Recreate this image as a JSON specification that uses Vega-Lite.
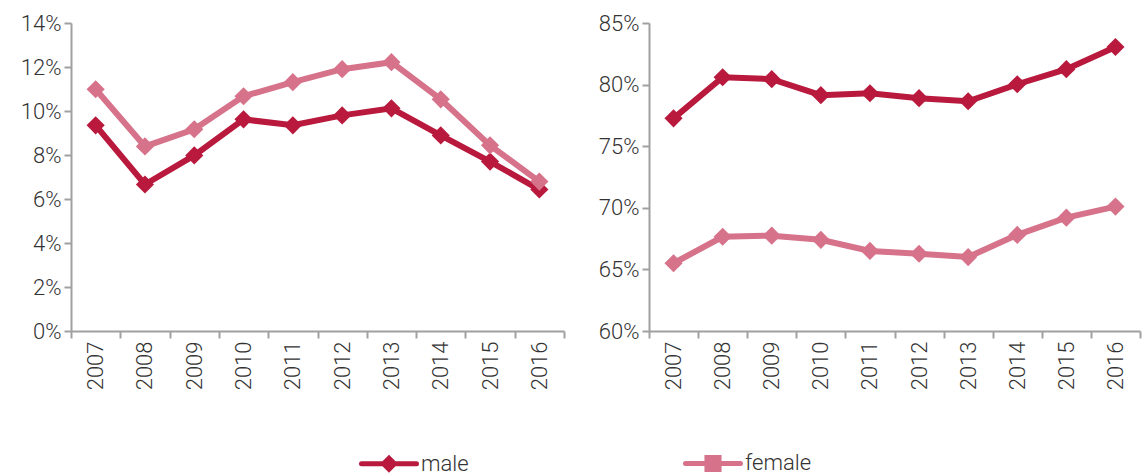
{
  "$schema": "https://vega.github.io/schema/vega-lite/v6.json",
  "background": "white",
  "padding": {"left": 20, "top": 12, "right": 4, "bottom": 0},
  "datasets": {
    "rates": [
      {"panel": "A", "year": "2007", "sex": "male", "value": 0.0935},
      {"panel": "A", "year": "2008", "sex": "male", "value": 0.0666},
      {"panel": "A", "year": "2009", "sex": "male", "value": 0.0798},
      {"panel": "A", "year": "2010", "sex": "male", "value": 0.0962},
      {"panel": "A", "year": "2011", "sex": "male", "value": 0.0935},
      {"panel": "A", "year": "2012", "sex": "male", "value": 0.098},
      {"panel": "A", "year": "2013", "sex": "male", "value": 0.1012},
      {"panel": "A", "year": "2014", "sex": "male", "value": 0.0889},
      {"panel": "A", "year": "2015", "sex": "male", "value": 0.077},
      {"panel": "A", "year": "2016", "sex": "male", "value": 0.0643},
      {"panel": "A", "year": "2007", "sex": "female", "value": 0.1099},
      {"panel": "A", "year": "2008", "sex": "female", "value": 0.0839},
      {"panel": "A", "year": "2009", "sex": "female", "value": 0.0917},
      {"panel": "A", "year": "2010", "sex": "female", "value": 0.1067},
      {"panel": "A", "year": "2011", "sex": "female", "value": 0.1131},
      {"panel": "A", "year": "2012", "sex": "female", "value": 0.119},
      {"panel": "A", "year": "2013", "sex": "female", "value": 0.1222},
      {"panel": "A", "year": "2014", "sex": "female", "value": 0.1053},
      {"panel": "A", "year": "2015", "sex": "female", "value": 0.0844},
      {"panel": "A", "year": "2016", "sex": "female", "value": 0.0679},
      {"panel": "B", "year": "2007", "sex": "male", "value": 0.7726},
      {"panel": "B", "year": "2008", "sex": "male", "value": 0.806},
      {"panel": "B", "year": "2009", "sex": "male", "value": 0.8044},
      {"panel": "B", "year": "2010", "sex": "male", "value": 0.7914},
      {"panel": "B", "year": "2011", "sex": "male", "value": 0.793},
      {"panel": "B", "year": "2012", "sex": "male", "value": 0.789},
      {"panel": "B", "year": "2013", "sex": "male", "value": 0.7865},
      {"panel": "B", "year": "2014", "sex": "male", "value": 0.8003},
      {"panel": "B", "year": "2015", "sex": "male", "value": 0.8125},
      {"panel": "B", "year": "2016", "sex": "male", "value": 0.8305},
      {"panel": "B", "year": "2007", "sex": "female", "value": 0.655},
      {"panel": "B", "year": "2008", "sex": "female", "value": 0.6765},
      {"panel": "B", "year": "2009", "sex": "female", "value": 0.6774},
      {"panel": "B", "year": "2010", "sex": "female", "value": 0.674},
      {"panel": "B", "year": "2011", "sex": "female", "value": 0.665},
      {"panel": "B", "year": "2012", "sex": "female", "value": 0.6627},
      {"panel": "B", "year": "2013", "sex": "female", "value": 0.66},
      {"panel": "B", "year": "2014", "sex": "female", "value": 0.678},
      {"panel": "B", "year": "2015", "sex": "female", "value": 0.692},
      {"panel": "B", "year": "2016", "sex": "female", "value": 0.701}
    ]
  },
  "data": {"name": "rates"},
  "spacing": 33,
  "hconcat": [
    {
      "width": 493,
      "height": 308,
      "transform": [{"filter": "datum.panel === 'A'"}],
      "encoding": {
        "x": {"field": "year", "type": "ordinal", "title": null,
              "scale": {"type": "band", "paddingInner": 0, "paddingOuter": 0},
              "axis": {"tickBand": "extent", "labelAngle": 270}},
        "y": {"field": "value", "type": "quantitative", "title": null,
              "scale": {"domain": [0, 0.14], "nice": false},
              "axis": {"format": ".0%", "values": [0, 0.02, 0.04, 0.06, 0.08, 0.1, 0.12, 0.14]}},
        "color": {"field": "sex", "type": "nominal", "title": null,
                  "scale": {"domain": ["male", "female"], "range": ["#B8193C", "#D6728A"]}},
        "order": {"field": "sex", "sort": "descending"}
      },
      "layer": [
        {"mark": {"type": "line", "strokeWidth": 6}},
        {"mark": {"type": "point", "shape": "diamond", "filled": true, "size": 330, "opacity": 1}}
      ]
    },
    {
      "width": 491,
      "height": 308,
      "transform": [{"filter": "datum.panel === 'B'"}],
      "encoding": {
        "x": {"field": "year", "type": "ordinal", "title": null,
              "scale": {"type": "band", "paddingInner": 0, "paddingOuter": 0},
              "axis": {"tickBand": "extent", "labelAngle": 270}},
        "y": {"field": "value", "type": "quantitative", "title": null,
              "scale": {"domain": [0.6, 0.85], "nice": false},
              "axis": {"format": ".0%", "values": [0.6, 0.65, 0.7, 0.75, 0.8, 0.85]}},
        "color": {"field": "sex", "type": "nominal", "title": null,
                  "scale": {"domain": ["male", "female"], "range": ["#B8193C", "#D6728A"]},
                  "legend": {
                    "orient": "none",
                    "direction": "horizontal",
                    "legendX": 288,
                    "legendY": 410,
                    "columnPadding": 206,
                    "symbolSize": 3025,
                    "symbolStrokeWidth": 5,
                    "labelOffset": 2,
                    "encode": {
                      "symbols": {
                        "update": {
                          "shape": {"signal": "datum.value === 'male' ? 'M-1,0L1,0M0,-0.2L0.2,0L0,0.2L-0.2,0Z' : 'M-1,0L1,0M-0.22,-0.22L0.22,-0.22L0.22,0.22L-0.22,0.22Z'"},
                          "strokeCap": {"value": "round"}
                        }
                      }
                    }
                  }},
        "order": {"field": "sex", "sort": "descending"}
      },
      "layer": [
        {"mark": {"type": "line", "strokeWidth": 6}},
        {"mark": {"type": "point", "shape": "diamond", "filled": true, "size": 330, "opacity": 1}}
      ]
    }
  ],
  "resolve": {"scale": {"y": "independent"}},
  "config": {
    "font": "Roboto",
    "view": {"stroke": null},
    "axis": {
      "grid": false,
      "domainColor": "#A0A0A0",
      "domainWidth": 2,
      "tickColor": "#A0A0A0",
      "tickWidth": 2,
      "tickSize": 7,
      "labelFontSize": 22,
      "labelFontWeight": 300,
      "labelColor": "#333333",
      "labelPadding": 3
    },
    "legend": {
      "labelFontSize": 22,
      "labelFontWeight": 300,
      "labelColor": "#333333",
      "symbolFillColor": null
    }
  }
}
